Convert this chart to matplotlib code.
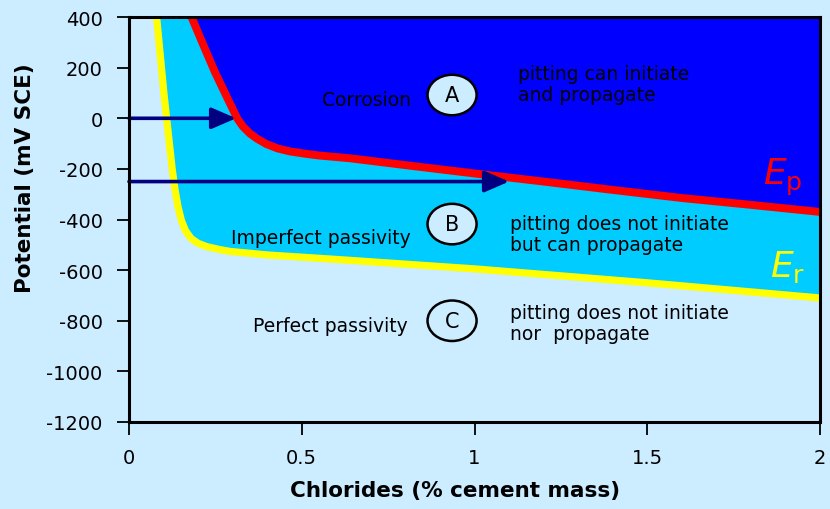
import matplotlib
matplotlib.use('Agg')
import matplotlib.pyplot as plt
from matplotlib.patches import Ellipse

plt.rcParams['font.family'] = 'DejaVu Sans'
plt.rcParams['axes.unicode_minus'] = False

# Ep: pitting potential, Er: repassivation potential
ep_x = [0.181, 0.215, 0.249, 0.283, 0.313, 0.33, 0.35, 0.37, 0.398, 0.43, 0.466, 0.51, 0.55, 0.64,
        0.8, 1.0, 1.2, 1.4, 1.6, 1.8, 2.0]
ep_y = [400, 290, 182, 85, 0, -33, -60, -80, -102, -119, -131, -140, -147, -158,
        -185, -218, -250, -283, -315, -342, -370]
er_x = [0.080, 0.087, 0.094, 0.101, 0.109, 0.117, 0.125, 0.133, 0.142, 0.152, 0.164, 0.18, 0.2,
        0.225, 0.26, 0.292, 0.4, 0.582, 1.0, 1.5, 2.0]
er_y = [400, 300, 200, 100, 0, -100, -200, -280, -350, -405, -445, -475, -494,
        -507, -518, -526, -540, -556, -595, -650, -710]

# arrows: start x, end x, potential
arrow_x0 = [0, 0]
arrow_x1 = [0.31, 1.1]
arrow_y = [0, -250]

x_ticks = [0, 0.5, 1, 1.5, 2]
x_tick_labels = ['0', '0.5', '1', '1.5', '2']
y_ticks = list(range(-1200, 401, 200))

bg = '#CCECFF'
fig = plt.figure(figsize=(8.3, 5.1), dpi=100, facecolor=bg)
ax = fig.add_axes([0.1554, 0.1706, 0.8326, 0.794])
ax.set_facecolor(bg)
ax.set_xlim(0, 2)
ax.set_ylim(-1200, 400)
x_max, y_max = 2, 400

# region A (above Ep)
ax.fill(ep_x + [x_max, x_max], ep_y + [y_max, y_max], color='#0000FF', lw=0, zorder=1)
# region B (between Er and Ep)
ax.fill(er_x + ep_x[::-1], er_y + ep_y[::-1], color='#00CCFF', lw=0, zorder=1)

ax.plot(er_x, er_y, color='#FFFF00', lw=5.2, solid_capstyle='butt', solid_joinstyle='round', zorder=3)
ax.plot(ep_x, ep_y, color='#FF0000', lw=5.7, solid_capstyle='butt', solid_joinstyle='round', zorder=3)

for x0, x1, y in zip(arrow_x0, arrow_x1, arrow_y):
    ax.annotate('', xy=(x1, y), xytext=(x0, y),
                arrowprops=dict(arrowstyle='-|>,head_length=1.5,head_width=0.65',
                                color='#000080', lw=2.6, shrinkA=0, shrinkB=0),
                zorder=4)

fs = 13.5
# labels in the regions
ax.text(0.816, 76, 'Corrosion', fontsize=fs, ha='right', va='center')
ax.text(0.816, -470, 'Imperfect passivity', fontsize=fs, ha='right', va='center')
ax.text(0.808, -820, 'Perfect passivity', fontsize=fs, ha='right', va='center')
ax.text(1.125, 135, 'pitting can initiate\nand propagate', fontsize=fs, va='center', linespacing=1.1)
ax.text(1.103, -457, 'pitting does not initiate\nbut can propagate', fontsize=fs, va='center', linespacing=1.1)
ax.text(1.103, -809, 'pitting does not initiate\nnor  propagate', fontsize=fs, va='center', linespacing=1.1)

for label, y in zip(['A', 'B', 'C'], [92, -418, -800]):
    ax.add_patch(Ellipse((0.935, y), 0.142, 160, facecolor=bg, edgecolor='black', lw=1.8, zorder=5))
    ax.text(0.935, y, label, fontsize=15, ha='center', va='center', zorder=6)

ax.text(1.893, -260, r'$E_{\mathrm{p}}$', color='#FF0000', fontsize=26, ha='center', va='baseline')
ax.text(1.905, -622, r'$E_{\mathrm{r}}$', color='#FFFF00', fontsize=26, ha='center', va='baseline')

ax.set_xticks(x_ticks)
ax.set_xticklabels(x_tick_labels)
ax.set_yticks(y_ticks)
ax.tick_params(axis='both', labelsize=14, length=9, width=1.3, direction='out')
ax.tick_params(axis='x', pad=10)
ax.tick_params(axis='y', pad=10)
for s in ax.spines.values():
    s.set_linewidth(2.2)
    s.set_zorder(7)

ax.set_xlabel('Chlorides (% cement mass)', fontsize=15.5, fontweight='bold')
ax.set_ylabel('Potential (mV SCE)', fontsize=15.5, fontweight='bold')
ax.xaxis.set_label_coords(0.472, -0.143)
ax.yaxis.set_label_coords(-0.136, 0.605)

plt.savefig('out.png', dpi=100, facecolor=bg)
